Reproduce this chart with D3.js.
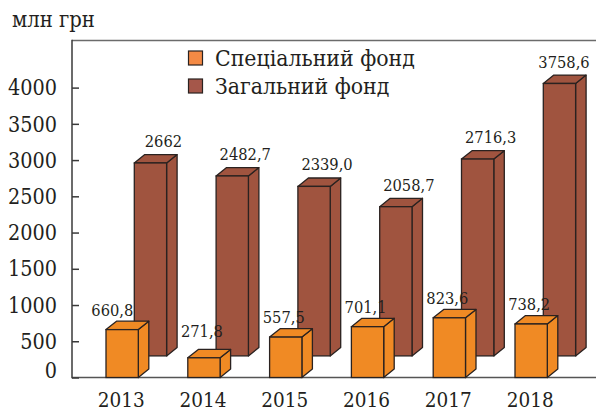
<!DOCTYPE html>
<html>
<head>
<meta charset="utf-8">
<script src="https://cdn.jsdelivr.net/npm/d3@7"></script>
<style>
  html, body { margin: 0; padding: 0; background: #fff; }
  svg { display: block; }
</style>
</head>
<body>
<svg id="chart" width="596" height="412"></svg>
<script>
// ---- data ----
const years = ["2013", "2014", "2015", "2016", "2017", "2018"];
const specialFund = [660.8, 271.8, 557.5, 701.1, 823.6, 738.2];
const generalFund = [2662, 2482.7, 2339.0, 2058.7, 2716.3, 3758.6];
const specialLabels = ["660,8", "271,8", "557,5", "701,1", "823,6", "738,2"];
const generalLabels = ["2662", "2482,7", "2339,0", "2058,7", "2716,3", "3758,6"];
const yTicks = [0, 500, 1000, 1500, 2000, 2500, 3000, 3500, 4000];
const seriesNames = ["Спеціальний фонд", "Загальний фонд"];
const unitLabel = "млн грн";

// ---- layout ----
const W = 596, H = 412;
const FONT = "'DejaVu Serif Condensed', 'DejaVu Serif', serif";
const axisX = 72, axisY = 377.5, topY = 40.5;
const colOrange = "#f08a24", colBrown = "#a0543f";
const legOrange = "#f48a45", legBrown = "#a5574a";
const stroke = "#2a2220";
const barW = 32.3, dX = 10.5, dY = 8.4;
const backShiftX = 28.3, backShiftY = 21.6;

const svg = d3.select("#chart").style("font-family", FONT);

// font size fitted to a target width of a sample string
function fitSize(sample, targetW) {
  const t = svg.append("text").style("font-family", FONT).attr("font-size", 100).text(sample);
  const w = t.node().getComputedTextLength();
  t.remove();
  return 100 * targetW / w;
}
const fsTick = fitSize("4000", 49);
const fsYear = fitSize("2013", 47);
const fsVal = fitSize("660,8", 42);
const fsLeg = fitSize(seriesNames[0], 200);
const fsUnit = fitSize(unitLabel, 83);

const y = d3.scaleLinear().domain([0, 4650]).range([axisY, topY]);
const x = d3.scaleBand().domain(years).range([axisX, axisX + 6 * 81.8]);
const k = (axisY - y(1));

svg.append("line").attr("x1", axisX).attr("x2", W).attr("y1", topY).attr("y2", topY)
  .attr("stroke", "#6b6b6b").attr("stroke-width", 1.5);
svg.append("line").attr("x1", axisX).attr("x2", W).attr("y1", axisY).attr("y2", axisY)
  .attr("stroke", "#555").attr("stroke-width", 1.5);
svg.append("line").attr("x1", axisX).attr("x2", axisX).attr("y1", topY - 0.75).attr("y2", axisY + 0.75)
  .attr("stroke", "#3a3a3a").attr("stroke-width", 1.5);

const yAxis = d3.axisRight(y).tickValues(yTicks).tickSize(7).tickFormat("");
const gY = svg.append("g").attr("transform", `translate(${axisX},0)`).call(yAxis);
gY.select(".domain").remove();
gY.selectAll(".tick line").attr("stroke", "#3a3a3a").attr("stroke-width", 1.5);

const txt = sel => sel.style("font-family", FONT).attr("fill", "#231f20");

svg.append("g").selectAll("text").data(yTicks).join("text")
  .call(txt)
  .attr("x", 57).attr("y", d => Math.min(y(d), axisY - 7.5))
  .attr("dy", "0.36em")
  .attr("text-anchor", "end")
  .attr("font-size", fsTick)
  .text(d => d);

svg.append("text").call(txt).attr("x", 12).attr("y", 27).attr("font-size", fsUnit).text(unitLabel);

function bar3d(g, left, base, h, fill) {
  const right = left + barW, top = base - h;
  g.append("path")
    .attr("d", `M${right},${base}L${right},${top}L${right + dX},${top - dY}L${right + dX},${base - dY}Z`)
    .attr("fill", fill).attr("stroke", stroke).attr("stroke-width", 1.3).attr("stroke-linejoin", "round");
  g.append("path")
    .attr("d", `M${left},${top}L${left + dX},${top - dY}L${right + dX},${top - dY}L${right},${top}Z`)
    .attr("fill", fill).attr("stroke", stroke).attr("stroke-width", 1.3).attr("stroke-linejoin", "round");
  g.append("rect")
    .attr("x", left).attr("y", top).attr("width", barW).attr("height", h)
    .attr("fill", fill).attr("stroke", stroke).attr("stroke-width", 1.3);
}

const frontLeft = c => x(c) + 34;
const backBase = axisY - backShiftY;

const gBack = svg.append("g");
years.forEach((c, i) => bar3d(gBack, frontLeft(c) + backShiftX, backBase, generalFund[i] * k, colBrown));
const gFront = svg.append("g");
years.forEach((c, i) => bar3d(gFront, frontLeft(c), axisY, specialFund[i] * k, colOrange));

svg.append("g").selectAll("text").data(years).join("text")
  .call(txt)
  .attr("font-size", fsVal)
  .attr("text-anchor", "middle")
  .attr("x", c => Math.min(frontLeft(c) + backShiftX + barW / 2 + 13, 564))
  .attr("y", (c, i) => backBase - generalFund[i] * k - dY - 7.5)
  .text((c, i) => generalLabels[i]);

svg.append("g").selectAll("text").data(years).join("text")
  .call(txt)
  .attr("font-size", fsVal)
  .attr("text-anchor", "middle")
  .attr("x", (c, i) => {
    const cx = frontLeft(c) + barW / 2;
    const overlap = (cx + 21) - (frontLeft(c) + backShiftX);
    return overlap > 8 && i === 0 ? cx - overlap - 1 : cx - 2;
  })
  .attr("y", (c, i) => Math.min(axisY - specialFund[i] * k - dY - 5.5, backBase - 19))
  .text((c, i) => specialLabels[i]);

svg.append("g").selectAll("text").data(years).join("text")
  .call(txt)
  .attr("font-size", fsYear)
  .attr("text-anchor", "middle")
  .attr("x", c => frontLeft(c) + barW / 2 - 1)
  .attr("y", 407)
  .text(c => c);

const legColors = [legOrange, legBrown];
const leg = svg.append("g");
seriesNames.forEach((n, i) => {
  leg.append("rect").attr("x", 188.5).attr("y", 51 + i * 28).attr("width", 14).attr("height", 14)
    .attr("fill", legColors[i]).attr("stroke", stroke).attr("stroke-width", 1.2);
  leg.append("text").call(txt).attr("x", 215).attr("y", 66 + i * 28).attr("font-size", fsLeg).text(n);
});
</script>
</body>
</html>
